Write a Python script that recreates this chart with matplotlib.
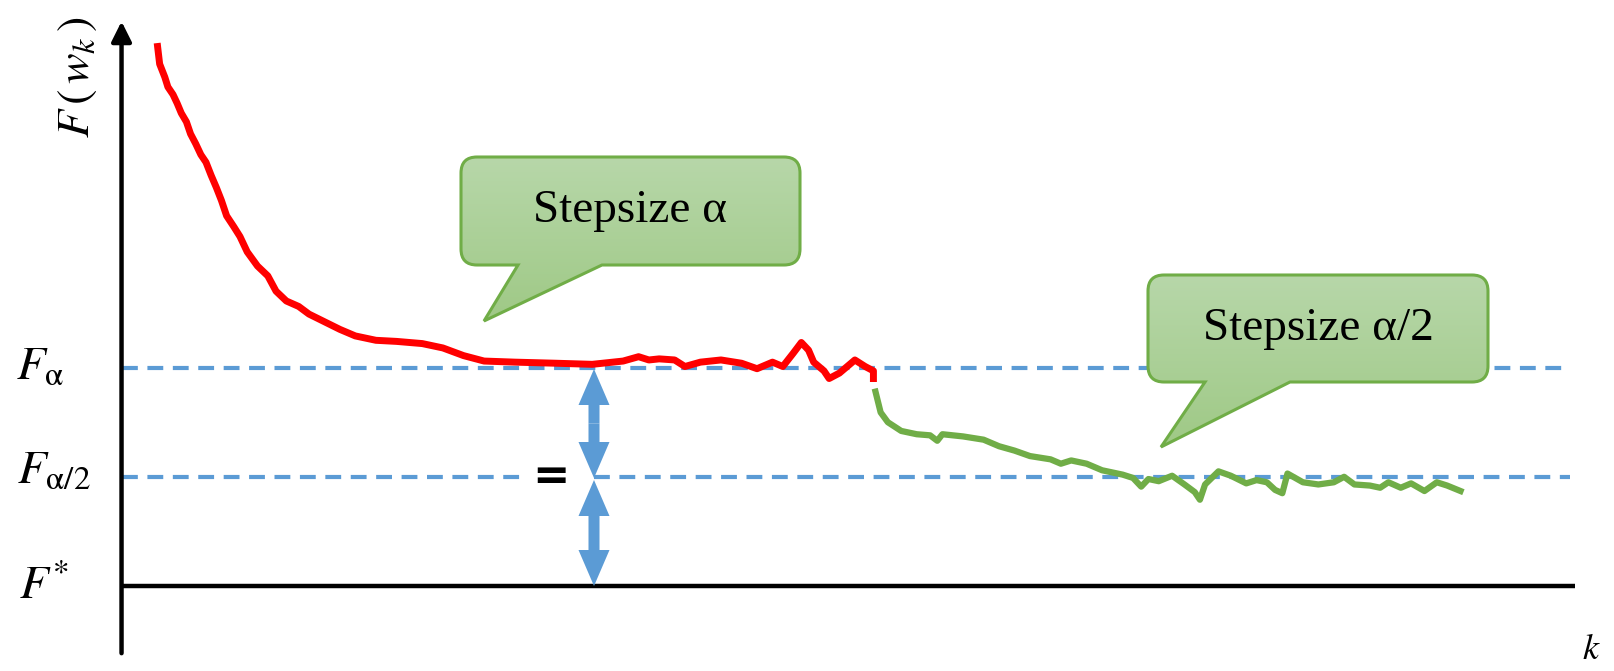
import numpy as np
import matplotlib
matplotlib.use("Agg")
import matplotlib.pyplot as plt
import matplotlib.patches as mpatches
from matplotlib.path import Path

plt.rcParams['mathtext.fontset'] = 'stix'

# reference levels
F_star = 0.0
F_a2 = 1.0
F_a = 2.0

# red run, stepsize alpha
k_red = [3.5, 3.7, 4.2, 4.5, 5.0, 5.4, 5.8, 6.3, 6.7, 7.2, 7.7, 8.2, 8.7, 9.2, 9.7,
         10.2, 10.9, 11.5, 12.2, 13.2, 14.2, 15.0, 16.0, 17.2, 18.2, 19.7, 21.2, 22.7,
         24.7, 26.7, 29.2, 31.2, 33.2, 35.2, 38.2, 42.2, 45.7, 48.7, 50.2, 51.2, 52.2,
         53.7, 54.7, 56.2, 58.2, 60.2, 61.7, 63.2, 64.2, 65.2, 66.0, 66.7, 67.2, 68.2,
         68.7, 69.7, 70.7, 71.2, 72.2, 73.0, 73.0]
F_red = [4.94, 4.78, 4.66, 4.57, 4.50, 4.42, 4.33, 4.25, 4.14, 4.05, 3.95, 3.88, 3.76,
         3.65, 3.53, 3.39, 3.29, 3.20, 3.06, 2.93, 2.84, 2.70, 2.61, 2.56, 2.49, 2.42,
         2.35, 2.29, 2.25, 2.24, 2.22, 2.18, 2.11, 2.06, 2.05, 2.04, 2.03, 2.06, 2.10,
         2.07, 2.08, 2.07, 2.01, 2.05, 2.07, 2.04, 1.99, 2.05, 2.01, 2.13, 2.23, 2.16,
         2.05, 1.97, 1.90, 1.95, 2.03, 2.07, 2.01, 1.97, 1.90]

# green run, stepsize alpha/2
k_green = [73.2, 73.7, 74.4, 75.7, 77.2, 78.5, 79.2, 79.7, 81.7, 83.7, 85.2, 86.7, 88.2,
           90.2, 91.2, 92.2, 93.7, 95.2, 97.2, 98.2, 99.0, 99.7, 100.7, 102.0, 103.2,
           104.2, 104.7, 105.2, 106.5, 107.7, 109.2, 110.2, 111.2, 112.0, 112.7, 113.2,
           114.7, 116.2, 117.7, 118.7, 119.7, 121.2, 122.2, 123.0, 124.2, 125.2, 126.5,
           127.7, 128.7, 130.0]
F_green = [1.78, 1.59, 1.50, 1.42, 1.39, 1.38, 1.33, 1.39, 1.37, 1.34, 1.28, 1.24, 1.19,
           1.16, 1.12, 1.15, 1.12, 1.06, 1.02, 0.99, 0.91, 0.98, 0.96, 1.01, 0.93, 0.86,
           0.79, 0.93, 1.05, 1.01, 0.94, 0.97, 0.95, 0.88, 0.85, 1.03, 0.95, 0.93, 0.95,
           1.00, 0.93, 0.92, 0.90, 0.95, 0.90, 0.94, 0.87, 0.95, 0.92, 0.87]

blue = '#5b9bd5'
green = '#70ad47'

fig = plt.figure(figsize=(16.15, 6.71), dpi=100)
ax = fig.add_axes([0, 0, 1, 1])
ax.set_xlim(-11.80, 145.0)
ax.set_ylim(-0.778, 5.366)
ax.axis('off')

# axes of the sketch
ax.annotate('', xy=(0, 5.17), xytext=(0, -0.615),
            arrowprops=dict(arrowstyle='-|>', lw=3.2, color='black',
                            mutation_scale=30, shrinkA=0, shrinkB=0))
ax.plot([0, 141.1], [F_star, F_star], color='black', lw=3.2, solid_capstyle='butt')

# dashed levels
ax.plot([0, 140.6], [F_a, F_a], color=blue, lw=3, dashes=(3.8, 2.3))
ax.plot([0, 38.7], [F_a2, F_a2], color=blue, lw=3, dashes=(3.8, 2.3))
ax.plot([45.9, 140.6], [F_a2, F_a2], color=blue, lw=3, dashes=(3.8, 2.3))

# curves
ax.plot(k_red, F_red, color='#ff0000', lw=5, solid_joinstyle='round')
ax.plot(k_green, F_green, color=green, lw=4.5, solid_joinstyle='round')

# labels
ax.text(-7.9, F_a, r'$F_{\mathrm{α}}$', fontsize=34, ha='center', va='center')
ax.text(-6.6, F_a2 + 0.05, r'$F_{\mathrm{α}/2}$', fontsize=34, ha='center', va='center')
ax.text(-7.5, F_star, r'$F^{*}$', fontsize=34, ha='center', va='center')
ax.text(-4.4, 4.66, r'$F\,(\,w_k\,)$', fontsize=33, ha='center', va='center', rotation=90)
ax.text(142.7, -0.58, r'$k$', fontsize=26, ha='center', va='center')
ax.text(41.7, F_a2, '=', fontsize=32, fontweight='bold', ha='center', va='center')

# overlay in pixel units for the callouts and arrows
ov = fig.add_axes([0, 0, 1, 1])
ov.set_xlim(0, 1615)
ov.set_ylim(671, 0)
ov.axis('off')
ov.patch.set_alpha(0)


def double_arrow(x, y0, y1):
    ym = (y0 + y1) / 2
    for ya, yb in [(ym, y0), (ym, y1)]:
        ov.add_patch(mpatches.FancyArrow(x, ya, 0, yb - ya, width=11, head_width=31,
                                         head_length=36, length_includes_head=True,
                                         color=blue, lw=0))


double_arrow(594, 369, 478)
double_arrow(594, 480, 586)


def callout(x0, y0, x1, y1, tb0, tb1, tip, text, r=16):
    verts = [(x0 + r, y0), (x1 - r, y0), (x1, y0), (x1, y0 + r), (x1, y1 - r),
             (x1, y1), (x1 - r, y1), (tb1, y1), tip, (tb0, y1), (x0 + r, y1),
             (x0, y1), (x0, y1 - r), (x0, y0 + r), (x0, y0), (x0 + r, y0), (x0 + r, y0)]
    codes = [Path.MOVETO, Path.LINETO, Path.CURVE3, Path.CURVE3, Path.LINETO,
             Path.CURVE3, Path.CURVE3, Path.LINETO, Path.LINETO, Path.LINETO,
             Path.LINETO, Path.CURVE3, Path.CURVE3, Path.LINETO, Path.CURVE3,
             Path.CURVE3, Path.CLOSEPOLY]
    patch = mpatches.PathPatch(Path(verts, codes), facecolor='none',
                               edgecolor=green, lw=2.2, zorder=4)
    ov.add_patch(patch)
    grad = np.linspace(0, 1, 100).reshape(-1, 1)
    cmap = matplotlib.colors.LinearSegmentedColormap.from_list('g', ['#b7d7a9', '#9fc986'])
    im = ov.imshow(grad, cmap=cmap, extent=(x0, x1, tip[1], y0), aspect='auto', zorder=3)
    im.set_clip_path(patch)
    ov.text((x0 + x1) / 2, (y0 + y1) / 2, text, fontsize=34, family='Liberation Serif',
            ha='center', va='center', zorder=5)


callout(461, 157, 800, 265, 518, 602, (484, 321), 'Stepsize α')
callout(1148, 275, 1488, 382, 1205, 1290, (1161, 447), 'Stepsize α/2')
ov.set_xlim(0, 1615)
ov.set_ylim(671, 0)

fig.savefig('out.png', dpi=100)
